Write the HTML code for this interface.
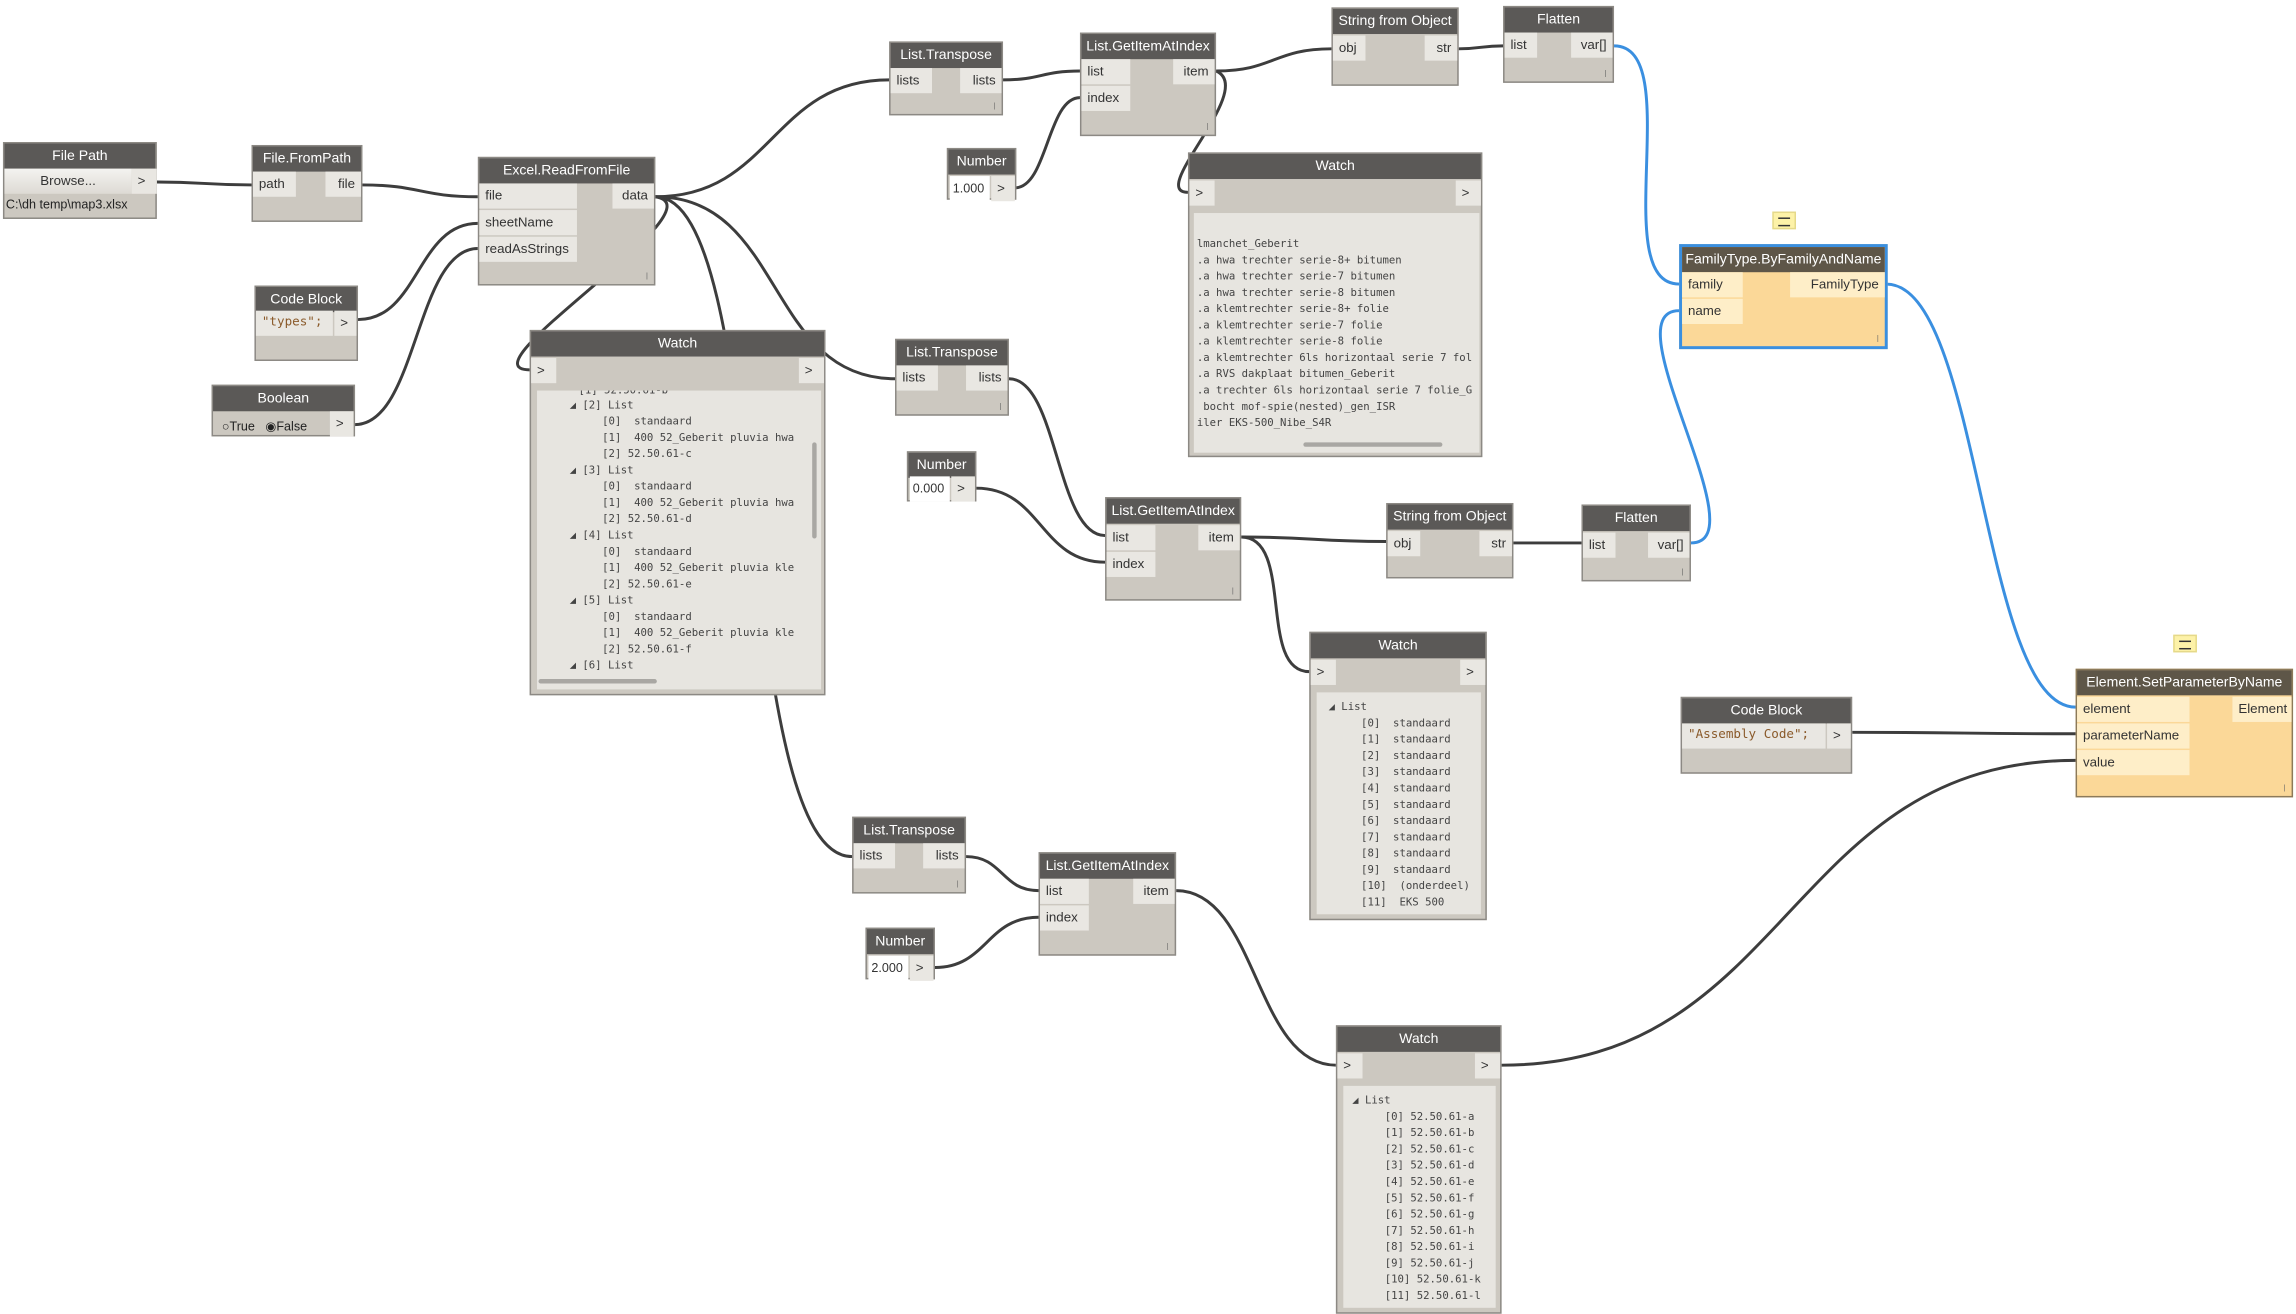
<!DOCTYPE html>
<html><head><meta charset="utf-8"><style>
html,body{margin:0;padding:0;background:#fff;width:2296px;height:1302px;overflow:hidden}
#w{position:absolute;left:0;top:0;width:1552px;height:880px;transform:scale(1.4794);transform-origin:0 0;font-family:"Liberation Sans",sans-serif}
.n{position:absolute;background:#ccc8c0;border:1px solid #8c8984;box-sizing:border-box}
.h{position:absolute;left:0;top:0;right:0;height:17px;background:#5b5957;color:#fff;font-size:9.5px;line-height:17px;text-align:center;white-space:nowrap}
.p{position:absolute;height:17px;line-height:17px;font-size:9px;color:#333;background:#e9e7e2;padding:0 4px;box-sizing:border-box;white-space:nowrap}
.o{text-align:right}
.y{background:#fbd898;border-color:#8c7a5a}
.y .h{background:#5e5648}
.y .p{background:#feeec8}
.c{position:absolute;background:#e7e5e0;font-family:"DejaVu Sans Mono","Liberation Mono",monospace;font-size:7.2px;color:#444;overflow:hidden;white-space:pre}
.c div{position:absolute;left:0;height:11px;line-height:11px}
.g{position:absolute;font-size:5px;color:#666}
.note{position:absolute;width:16px;height:12px;background:#fdf2a8;border:1px solid #e5d98a;box-sizing:border-box}
.note:before{content:"";position:absolute;left:3px;top:3px;width:8px;height:4px;border-top:1px solid #333;border-bottom:1px solid #333}
</style></head><body><div id="w">
<svg width="1552" height="880" style="position:absolute;left:0;top:0" fill="none" stroke-width="2">
<g stroke="#3d3d3d">
<path d="M106,123 C138,123 138,125 170,125"/>
<path d="M245,125 C284,125 284,133 323,133"/>
<path d="M242,216 C283,216 282,151 323,151"/>
<path d="M240,287 C282,287 281,168 323,168"/>
<path d="M443,133 C522,133 522,54 601,54"/>
<path d="M443,133 C530,133 518,256 605,256"/>
<path d="M443,133 C520,133 496,579 576,579"/>
<path d="M443,133 C490,140 310,250 358,250"/>
<path d="M678,54 C704,54 704,48 730,48"/>
<path d="M686,127 C708,127 708,66 730,66"/>
<path d="M822,48 C861,48 861,33 900,33"/>
<path d="M822,48 C850,60 775,130 803,130"/>
<path d="M986,33 C1001,33 1001,31 1016,31"/>
<path d="M682,256 C715,256 714,362 747,362"/>
<path d="M660,330 C704,330 703,380 747,380"/>
<path d="M839,363 C888,363 888,366 937,366"/>
<path d="M839,363 C875,363 850,454 885,454"/>
<path d="M1023,367 C1046,367 1046,367 1069,367"/>
<path d="M653,579 C678,579 677,602 702,602"/>
<path d="M632,654 C667,654 667,620 702,620"/>
<path d="M795,602 C850,602 848,720 903,720"/>
<path d="M1015,720 C1210,720 1208,514 1403,514"/>
<path d="M1252,495 C1328,495 1327,496 1403,496"/>
</g>
<g stroke="#3a8fe0">
<path d="M1091,31 C1140,31 1086,192 1135,192"/>
<path d="M1143,367 C1190,367 1088,210 1135,210"/>
<path d="M1275,192 C1339,192 1339,478 1403,478"/>
</g>
</svg>

<!-- File Path -->
<div class="n" style="left:2px;top:96px;width:104px;height:52px"><div class="h">File Path</div>
<div class="p" style="left:0;top:17px;width:86px;text-align:center;background:linear-gradient(#f4f3f0,#dddad4)">Browse...</div>
<div class="p" style="left:86px;top:17px;width:17px;">&gt;</div>
<div style="position:absolute;left:1px;top:36px;font-size:8.5px;color:#222">C:\dh temp\map3.xlsx</div></div>

<div class="n" style="left:170px;top:98px;width:75px;height:52px"><div class="h">File.FromPath</div>
<div class="p" style="left:0;top:17px;width:29px">path</div><div class="p o" style="right:0;top:17px;width:24px">file</div></div>

<div class="n" style="left:323px;top:106px;width:120px;height:87px"><div class="h">Excel.ReadFromFile</div>
<div class="p" style="left:0;top:17px;width:66px">file</div>
<div class="p" style="left:0;top:35px;width:66px">sheetName</div>
<div class="p" style="left:0;top:53px;width:66px">readAsStrings</div>
<div class="p o" style="right:0;top:17px;width:28px">data</div><div class="g" style="right:4px;bottom:2px">|</div></div>

<div class="n" style="left:172px;top:193px;width:70px;height:51px"><div class="h">Code Block</div>
<div class="p" style="left:0;top:16px;width:52px;font-family:'DejaVu Sans Mono',monospace;color:#8a5a2a;font-size:8.5px">"types";</div>
<div class="p" style="left:53px;top:16px;width:15px">&gt;</div></div>

<div class="n" style="left:143px;top:260px;width:97px;height:35px"><div class="h">Boolean</div>
<div style="position:absolute;left:6px;top:22px;font-size:8.5px;color:#222">○True &nbsp; ◉False</div>
<div class="p" style="left:79px;top:17px;width:16px">&gt;</div></div>

<!-- Big Watch -->
<div class="n" style="left:358px;top:223px;width:200px;height:247px"><div class="h">Watch</div>
<div class="p" style="left:0;top:18px;width:17px">&gt;</div><div class="p" style="right:0;top:18px;width:17px">&gt;</div>
<div class="c" style="left:4px;top:40px;width:192px;height:202px">
<div style="top:-6px;left:28px">[1] 52.50.61-b</div>
<div style="top:4px;left:22px">◢ [2] List</div>
<div style="top:15px;left:44px">[0]  standaard</div>
<div style="top:26px;left:44px">[1]  400 52_Geberit pluvia hwa</div>
<div style="top:37px;left:44px">[2] 52.50.61-c</div>
<div style="top:48px;left:22px">◢ [3] List</div>
<div style="top:59px;left:44px">[0]  standaard</div>
<div style="top:70px;left:44px">[1]  400 52_Geberit pluvia hwa</div>
<div style="top:81px;left:44px">[2] 52.50.61-d</div>
<div style="top:92px;left:22px">◢ [4] List</div>
<div style="top:103px;left:44px">[0]  standaard</div>
<div style="top:114px;left:44px">[1]  400 52_Geberit pluvia kle</div>
<div style="top:125px;left:44px">[2] 52.50.61-e</div>
<div style="top:136px;left:22px">◢ [5] List</div>
<div style="top:147px;left:44px">[0]  standaard</div>
<div style="top:158px;left:44px">[1]  400 52_Geberit pluvia kle</div>
<div style="top:169px;left:44px">[2] 52.50.61-f</div>
<div style="top:180px;left:22px">◢ [6] List</div>
<div style="top:195px;left:1px;width:80px;height:3px;background:#a9a7a3;border-radius:2px"></div>
<div style="top:35px;left:186px;width:3px;height:65px;background:#a9a7a3;border-radius:2px"></div>
</div></div>

<div class="n" style="left:601px;top:28px;width:77px;height:50px"><div class="h">List.Transpose</div>
<div class="p" style="left:0;top:17px;width:28px">lists</div><div class="p o" style="right:0;top:17px;width:28px">lists</div><div class="g" style="right:4px;bottom:2px">|</div></div>

<div class="n" style="left:730px;top:22px;width:92px;height:70px"><div class="h">List.GetItemAtIndex</div>
<div class="p" style="left:0;top:17px;width:33px">list</div><div class="p" style="left:0;top:35px;width:33px">index</div>
<div class="p o" style="right:0;top:17px;width:28px">item</div><div class="g" style="right:4px;bottom:2px">|</div></div>

<div class="n" style="left:640px;top:100px;width:47px;height:35px"><div class="h">Number</div>
<div class="p" style="left:1px;top:18px;width:27px;background:#fff;padding:0 2px;font-size:8.5px">1.000</div><div class="p" style="left:29px;top:18px;width:16px">&gt;</div></div>

<div class="n" style="left:900px;top:5px;width:86px;height:53px"><div class="h">String from Object</div>
<div class="p" style="left:0;top:18px;width:22px">obj</div><div class="p o" style="right:0;top:18px;width:22px">str</div></div>

<div class="n" style="left:1016px;top:4px;width:75px;height:52px"><div class="h">Flatten</div>
<div class="p" style="left:0;top:17px;width:22px">list</div><div class="p o" style="right:0;top:17px;width:28px">var[]</div><div class="g" style="right:4px;bottom:2px">|</div></div>

<!-- Top right watch -->
<div class="n" style="left:803px;top:103px;width:199px;height:206px"><div class="h">Watch</div>
<div class="p" style="left:0;top:18px;width:17px">&gt;</div><div class="p" style="right:0;top:18px;width:17px">&gt;</div>
<div class="c" style="left:3px;top:40px;width:193px;height:162px">
<div style="top:15px;left:2px">lmanchet_Geberit</div>
<div style="top:26px;left:2px">.a hwa trechter serie-8+ bitumen</div>
<div style="top:37px;left:2px">.a hwa trechter serie-7 bitumen</div>
<div style="top:48px;left:2px">.a hwa trechter serie-8 bitumen</div>
<div style="top:59px;left:2px">.a klemtrechter serie-8+ folie</div>
<div style="top:70px;left:2px">.a klemtrechter serie-7 folie</div>
<div style="top:81px;left:2px">.a klemtrechter serie-8 folie</div>
<div style="top:92px;left:2px">.a klemtrechter 6ls horizontaal serie 7 fol</div>
<div style="top:103px;left:2px">.a RVS dakplaat bitumen_Geberit</div>
<div style="top:114px;left:2px">.a trechter 6ls horizontaal serie 7 folie_G</div>
<div style="top:125px;left:2px"> bocht mof-spie(nested)_gen_ISR</div>
<div style="top:136px;left:2px">iler EKS-500_Nibe_S4R</div>
<div style="top:155px;left:74px;width:94px;height:3px;background:#a9a7a3;border-radius:2px"></div>
</div></div>

<div class="note" style="left:1198px;top:143px"></div>
<div class="n y" style="left:1135px;top:165px;width:141px;height:71px;border:2px solid #3a8fe0"><div class="h">FamilyType.ByFamilyAndName</div>
<div class="p" style="left:0;top:17px;width:41px">family</div><div class="p" style="left:0;top:35px;width:41px">name</div>
<div class="p o" style="right:0;top:17px;width:64px">FamilyType</div><div class="g" style="right:4px;bottom:2px">|</div></div>

<div class="n" style="left:605px;top:229px;width:77px;height:52px"><div class="h">List.Transpose</div>
<div class="p" style="left:0;top:17px;width:28px">lists</div><div class="p o" style="right:0;top:17px;width:28px">lists</div><div class="g" style="right:4px;bottom:2px">|</div></div>

<div class="n" style="left:613px;top:305px;width:47px;height:34px"><div class="h">Number</div>
<div class="p" style="left:1px;top:16px;width:27px;background:#fff;padding:0 2px;font-size:8.5px">0.000</div><div class="p" style="left:29px;top:16px;width:16px">&gt;</div></div>

<div class="n" style="left:747px;top:336px;width:92px;height:70px"><div class="h">List.GetItemAtIndex</div>
<div class="p" style="left:0;top:18px;width:33px">list</div><div class="p" style="left:0;top:36px;width:33px">index</div>
<div class="p o" style="right:0;top:18px;width:28px">item</div><div class="g" style="right:4px;bottom:2px">|</div></div>

<div class="n" style="left:937px;top:340px;width:86px;height:51px"><div class="h">String from Object</div>
<div class="p" style="left:0;top:18px;width:22px">obj</div><div class="p o" style="right:0;top:18px;width:22px">str</div></div>

<div class="n" style="left:1069px;top:341px;width:74px;height:52px"><div class="h">Flatten</div>
<div class="p" style="left:0;top:18px;width:22px">list</div><div class="p o" style="right:0;top:18px;width:28px">var[]</div><div class="g" style="right:4px;bottom:2px">|</div></div>

<div class="n" style="left:885px;top:427px;width:120px;height:195px"><div class="h">Watch</div>
<div class="p" style="left:0;top:18px;width:17px">&gt;</div><div class="p" style="right:0;top:18px;width:17px">&gt;</div>
<div class="c" style="left:4px;top:40px;width:111px;height:150px">
<div style="top:4px;left:8px">◢ List</div>
<div style="top:15px;left:30px">[0]  standaard</div><div style="top:26px;left:30px">[1]  standaard</div>
<div style="top:37px;left:30px">[2]  standaard</div><div style="top:48px;left:30px">[3]  standaard</div>
<div style="top:59px;left:30px">[4]  standaard</div><div style="top:70px;left:30px">[5]  standaard</div>
<div style="top:81px;left:30px">[6]  standaard</div><div style="top:92px;left:30px">[7]  standaard</div>
<div style="top:103px;left:30px">[8]  standaard</div><div style="top:114px;left:30px">[9]  standaard</div>
<div style="top:125px;left:30px">[10]  (onderdeel)</div><div style="top:136px;left:30px">[11]  EKS 500</div>
</div></div>

<div class="n" style="left:576px;top:552px;width:77px;height:52px"><div class="h">List.Transpose</div>
<div class="p" style="left:0;top:17px;width:28px">lists</div><div class="p o" style="right:0;top:17px;width:28px">lists</div><div class="g" style="right:4px;bottom:2px">|</div></div>

<div class="n" style="left:585px;top:627px;width:47px;height:35px"><div class="h">Number</div>
<div class="p" style="left:1px;top:18px;width:27px;background:#fff;padding:0 2px;font-size:8.5px">2.000</div><div class="p" style="left:29px;top:18px;width:16px">&gt;</div></div>

<div class="n" style="left:702px;top:576px;width:93px;height:70px"><div class="h">List.GetItemAtIndex</div>
<div class="p" style="left:0;top:17px;width:33px">list</div><div class="p" style="left:0;top:35px;width:33px">index</div>
<div class="p o" style="right:0;top:17px;width:28px">item</div><div class="g" style="right:4px;bottom:2px">|</div></div>

<div class="n" style="left:903px;top:693px;width:112px;height:195px"><div class="h">Watch</div>
<div class="p" style="left:0;top:18px;width:17px">&gt;</div><div class="p" style="right:0;top:18px;width:17px">&gt;</div>
<div class="c" style="left:4px;top:40px;width:103px;height:150px">
<div style="top:4px;left:6px">◢ List</div>
<div style="top:15px;left:28px">[0] 52.50.61-a</div><div style="top:26px;left:28px">[1] 52.50.61-b</div>
<div style="top:37px;left:28px">[2] 52.50.61-c</div><div style="top:48px;left:28px">[3] 52.50.61-d</div>
<div style="top:59px;left:28px">[4] 52.50.61-e</div><div style="top:70px;left:28px">[5] 52.50.61-f</div>
<div style="top:81px;left:28px">[6] 52.50.61-g</div><div style="top:92px;left:28px">[7] 52.50.61-h</div>
<div style="top:103px;left:28px">[8] 52.50.61-i</div><div style="top:114px;left:28px">[9] 52.50.61-j</div>
<div style="top:125px;left:28px">[10] 52.50.61-k</div><div style="top:136px;left:28px">[11] 52.50.61-l</div>
</div></div>

<div class="n" style="left:1136px;top:471px;width:116px;height:52px"><div class="h">Code Block</div>
<div class="p" style="left:0;top:17px;width:97px;font-family:'DejaVu Sans Mono',monospace;color:#8a5a2a;font-size:8.5px">"Assembly Code";</div>
<div class="p" style="left:98px;top:17px;width:16px">&gt;</div></div>

<div class="note" style="left:1469px;top:429px"></div>
<div class="n y" style="left:1403px;top:452px;width:147px;height:87px"><div class="h">Element.SetParameterByName</div>
<div class="p" style="left:0;top:18px;width:76px">element</div>
<div class="p" style="left:0;top:36px;width:76px">parameterName</div>
<div class="p" style="left:0;top:54px;width:76px">value</div>
<div class="p o" style="right:0;top:18px;width:40px">Element</div><div class="g" style="right:4px;bottom:2px">|</div></div>
</div></body></html>
